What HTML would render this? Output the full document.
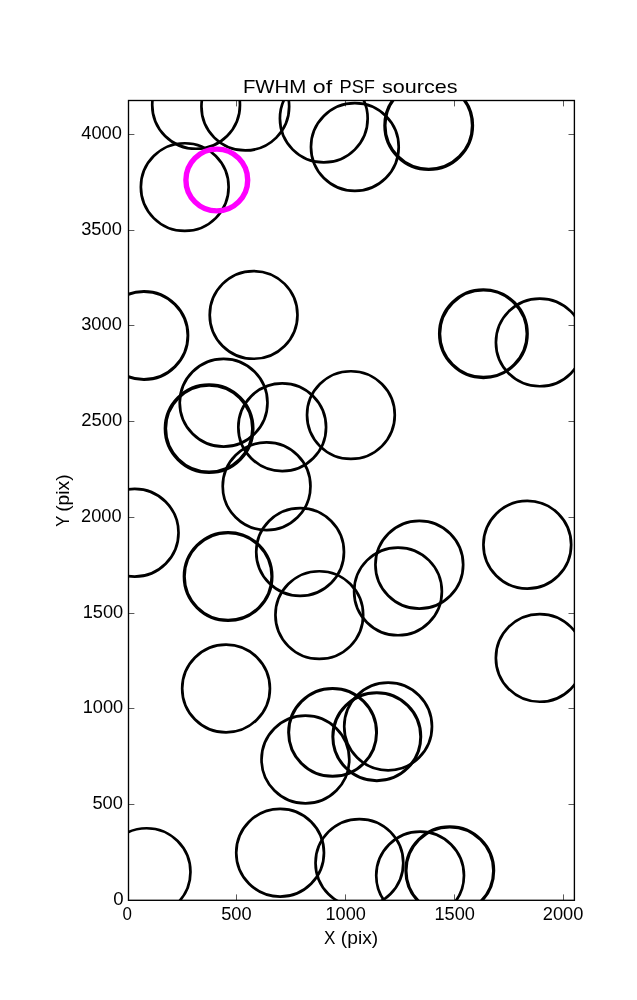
<!DOCTYPE html>
<html><head><meta charset="utf-8"><title>FWHM of PSF sources</title>
<style>html,body{margin:0;padding:0;background:#fff;}body{width:637px;height:1000px;overflow:hidden;}svg{display:block;}svg{will-change:transform;}text{font-family:"Liberation Sans",sans-serif;fill:#000;}</style></head><body>
<svg width="637" height="1000" viewBox="0 0 637 1000">
<rect x="0" y="0" width="637" height="1000" fill="#ffffff"/>
<defs><clipPath id="ax"><rect x="128.5" y="100.5" width="445.9" height="799.8"/></clipPath></defs>
<g clip-path="url(#ax)" fill="none" stroke="#000">
<circle cx="196.1" cy="104.9" r="43.87" stroke-width="2.7"/>
<circle cx="245.3" cy="106.6" r="43.87" stroke-width="2.7"/>
<circle cx="323.8" cy="118.6" r="43.87" stroke-width="2.7"/>
<circle cx="354.85" cy="147.0" r="43.87" stroke-width="2.7"/>
<circle cx="428.7" cy="125.5" r="43.8" stroke-width="3.3"/>
<circle cx="184.75" cy="187.1" r="43.87" stroke-width="2.7"/>
<circle cx="143.9" cy="335.5" r="44.0" stroke-width="2.9"/>
<circle cx="253.6" cy="314.9" r="43.87" stroke-width="2.7"/>
<circle cx="483.4" cy="333.7" r="43.8" stroke-width="3.3"/>
<circle cx="539.8" cy="342.4" r="43.87" stroke-width="2.7"/>
<circle cx="223.6" cy="402.75" r="43.87" stroke-width="2.7"/>
<circle cx="209.1" cy="428.6" r="43.7" stroke-width="3.5"/>
<circle cx="282.2" cy="427.2" r="43.87" stroke-width="2.7"/>
<circle cx="350.9" cy="415.1" r="43.87" stroke-width="2.7"/>
<circle cx="266.6" cy="486.3" r="43.87" stroke-width="2.7"/>
<circle cx="134.65" cy="532.8" r="43.87" stroke-width="2.7"/>
<circle cx="300.1" cy="552.0" r="43.87" stroke-width="2.7"/>
<circle cx="228.1" cy="576.5" r="43.85" stroke-width="3.2"/>
<circle cx="527.3" cy="544.7" r="43.87" stroke-width="2.7"/>
<circle cx="419.3" cy="564.8" r="43.87" stroke-width="2.7"/>
<circle cx="398.0" cy="591.4" r="43.87" stroke-width="2.7"/>
<circle cx="319.3" cy="615.1" r="43.87" stroke-width="2.7"/>
<circle cx="539.75" cy="657.9" r="43.87" stroke-width="2.7"/>
<circle cx="226.05" cy="688.45" r="43.87" stroke-width="2.7"/>
<circle cx="332.6" cy="732.4" r="43.95" stroke-width="3.0"/>
<circle cx="388.1" cy="726.5" r="43.87" stroke-width="2.7"/>
<circle cx="376.8" cy="736.7" r="43.95" stroke-width="3.0"/>
<circle cx="305.4" cy="759.5" r="43.87" stroke-width="2.7"/>
<circle cx="280.1" cy="852.7" r="43.87" stroke-width="2.7"/>
<circle cx="359.4" cy="862.9" r="43.87" stroke-width="2.7"/>
<circle cx="420.1" cy="875.5" r="43.87" stroke-width="2.7"/>
<circle cx="449.8" cy="870.7" r="43.85" stroke-width="3.2"/>
<circle cx="146.6" cy="872.1" r="43.87" stroke-width="2.7"/>
<circle cx="216.8" cy="180.0" r="30.9" stroke="#ff00ff" stroke-width="5.4"/>
</g>
<g stroke="#000" stroke-width="0.65" fill="none">
<line x1="236.5" y1="900.3" x2="236.5" y2="894.4"/><line x1="236.5" y1="100.5" x2="236.5" y2="106.4"/>
<line x1="345.5" y1="900.3" x2="345.5" y2="894.4"/><line x1="345.5" y1="100.5" x2="345.5" y2="106.4"/>
<line x1="454.5" y1="900.3" x2="454.5" y2="894.4"/><line x1="454.5" y1="100.5" x2="454.5" y2="106.4"/>
<line x1="563.5" y1="900.3" x2="563.5" y2="894.4"/><line x1="563.5" y1="100.5" x2="563.5" y2="106.4"/>
<line x1="128.5" y1="804.5" x2="134.4" y2="804.5"/><line x1="574.4" y1="804.5" x2="568.5" y2="804.5"/>
<line x1="128.5" y1="708.5" x2="134.4" y2="708.5"/><line x1="574.4" y1="708.5" x2="568.5" y2="708.5"/>
<line x1="128.5" y1="613.5" x2="134.4" y2="613.5"/><line x1="574.4" y1="613.5" x2="568.5" y2="613.5"/>
<line x1="128.5" y1="517.5" x2="134.4" y2="517.5"/><line x1="574.4" y1="517.5" x2="568.5" y2="517.5"/>
<line x1="128.5" y1="421.5" x2="134.4" y2="421.5"/><line x1="574.4" y1="421.5" x2="568.5" y2="421.5"/>
<line x1="128.5" y1="325.5" x2="134.4" y2="325.5"/><line x1="574.4" y1="325.5" x2="568.5" y2="325.5"/>
<line x1="128.5" y1="230.5" x2="134.4" y2="230.5"/><line x1="574.4" y1="230.5" x2="568.5" y2="230.5"/>
<line x1="128.5" y1="134.5" x2="134.4" y2="134.5"/><line x1="574.4" y1="134.5" x2="568.5" y2="134.5"/>
</g>
<rect x="128.5" y="100.5" width="445.9" height="799.8" fill="none" stroke="#000" stroke-width="1.35"/>
<text x="242.90" y="92.70" font-size="18.5" textLength="63.49" lengthAdjust="spacingAndGlyphs">FWHM</text>
<text x="312.84" y="92.70" font-size="18.5" textLength="19.36" lengthAdjust="spacingAndGlyphs">of</text>
<text x="339.48" y="92.70" font-size="18.5" textLength="35.49" lengthAdjust="spacingAndGlyphs">PSF</text>
<text x="381.92" y="92.70" font-size="18.5" textLength="75.58" lengthAdjust="spacingAndGlyphs">sources</text>
<text x="81.28" y="138.95" font-size="17.5" textLength="40.64" lengthAdjust="spacingAndGlyphs">4000</text>
<text x="81.20" y="234.95" font-size="17.5" textLength="40.65" lengthAdjust="spacingAndGlyphs">3500</text>
<text x="81.20" y="329.95" font-size="17.5" textLength="40.65" lengthAdjust="spacingAndGlyphs">3000</text>
<text x="81.20" y="425.95" font-size="17.5" textLength="41.06" lengthAdjust="spacingAndGlyphs">2500</text>
<text x="81.06" y="521.95" font-size="17.5" textLength="40.48" lengthAdjust="spacingAndGlyphs">2000</text>
<text x="82.70" y="617.95" font-size="17.5" textLength="40.52" lengthAdjust="spacingAndGlyphs">1500</text>
<text x="82.70" y="712.95" font-size="17.5" textLength="40.52" lengthAdjust="spacingAndGlyphs">1000</text>
<text x="92.42" y="808.95" font-size="17.5" textLength="30.47" lengthAdjust="spacingAndGlyphs">500</text>
<text x="113.28" y="904.85" font-size="17.5" textLength="10.35" lengthAdjust="spacingAndGlyphs">0</text>
<text x="122.42" y="919.75" font-size="17.5" textLength="9.42" lengthAdjust="spacingAndGlyphs">0</text>
<text x="221.20" y="919.75" font-size="17.5" textLength="30.43" lengthAdjust="spacingAndGlyphs">500</text>
<text x="325.56" y="919.75" font-size="17.5" textLength="40.32" lengthAdjust="spacingAndGlyphs">1000</text>
<text x="434.48" y="919.75" font-size="17.5" textLength="40.50" lengthAdjust="spacingAndGlyphs">1500</text>
<text x="542.78" y="919.75" font-size="17.5" textLength="40.53" lengthAdjust="spacingAndGlyphs">2000</text>
<text x="324.10" y="943.80" font-size="18.3" textLength="11.40" lengthAdjust="spacingAndGlyphs">X</text>
<text x="340.84" y="943.80" font-size="18.3" textLength="37.29" lengthAdjust="spacingAndGlyphs">(pix)</text>
<text transform="translate(68.7,525.7) rotate(-90)" x="-1.00" y="0" font-size="18.3" textLength="11.00" lengthAdjust="spacingAndGlyphs">Y</text>
<text transform="translate(68.7,525.7) rotate(-90)" x="13.90" y="0" font-size="18.3" textLength="37.40" lengthAdjust="spacingAndGlyphs">(pix)</text>
</svg></body></html>
